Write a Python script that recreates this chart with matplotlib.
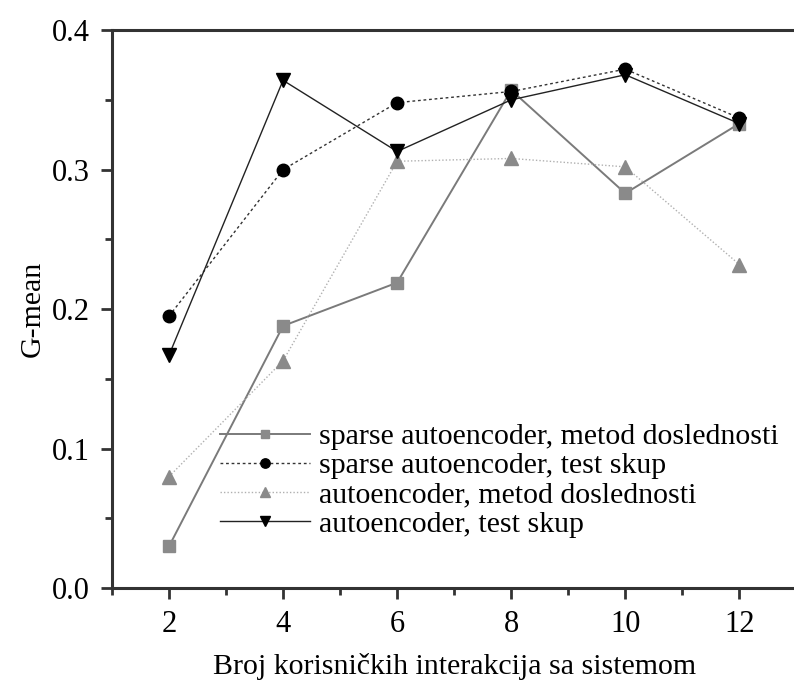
import matplotlib
matplotlib.use("Agg")
import matplotlib.pyplot as plt
from matplotlib.ticker import MultipleLocator

plt.rcParams['font.family'] = ['Liberation Serif', 'DejaVu Serif']

interakcije = [2, 4, 6, 8, 10, 12]
sparse_metod = [0.030, 0.188, 0.219, 0.357, 0.283, 0.333]
sparse_test = [0.195, 0.300, 0.348, 0.356, 0.372, 0.337]
auto_metod = [0.080, 0.163, 0.306, 0.308, 0.302, 0.232]
auto_test = [0.167, 0.364, 0.313, 0.350, 0.368, 0.333]

labels = [
    "sparse autoencoder, metod doslednosti",
    "sparse autoencoder, test skup",
    "autoencoder, metod doslednosti",
    "autoencoder, test skup",
]

fig = plt.figure(figsize=(7.94, 6.84), dpi=100)
ax = fig.add_axes([0.141, 0.140, 0.862, 0.816])

ax.plot(interakcije, sparse_metod, color="#7a7a7a", lw=1.4, ls="-",
        marker="s", ms=8, mfc="#8a8a8a", mec="#8a8a8a", label=labels[0])
ax.plot(interakcije, sparse_test, color="#333333", lw=1.0, ls=(0, (2, 2)),
        marker="o", ms=9, mfc="black", mec="black", label=labels[1])
ax.plot(interakcije, auto_metod, color="#b0b0b0", lw=1.0, ls=(0, (1, 1.5)),
        marker="^", ms=10, mfc="#8a8a8a", mec="#8a8a8a", label=labels[2])
ax.plot(interakcije, auto_test, color="#222222", lw=1.0, ls="-",
        marker="v", ms=10, mfc="black", mec="black", label=labels[3])

ax.set_xlim(1, 13)
ax.set_ylim(0, 0.4)
ax.xaxis.set_major_locator(MultipleLocator(2))
ax.xaxis.set_minor_locator(MultipleLocator(1))
ax.yaxis.set_major_locator(MultipleLocator(0.1))
ax.yaxis.set_minor_locator(MultipleLocator(0.05))
ax.yaxis.set_major_formatter(matplotlib.ticker.FormatStrFormatter("%.1f"))

for side in ("left", "bottom", "top"):
    ax.spines[side].set_linewidth(2.2)
    ax.spines[side].set_color("#333333")
ax.spines["right"].set_visible(False)

ax.tick_params(which="major", direction="out", length=8, width=2,
               labelsize=22, color="#333333", pad=8)
ax.tick_params(which="minor", direction="out", length=5, width=2,
               color="#333333")

ax.set_xlabel("Broj korisničkih interakcija sa sistemom", fontsize=21.5,
              labelpad=10)
ax.set_ylabel("G-mean", fontsize=21.5, labelpad=4)

ax.legend(loc="lower right", bbox_to_anchor=(1.0, 0.058), frameon=False,
          fontsize=21.5, handlelength=3.0, handletextpad=0.3,
          labelspacing=0.08, borderaxespad=0.2, markerscale=0.75)

fig.savefig("out.png", dpi=100)
